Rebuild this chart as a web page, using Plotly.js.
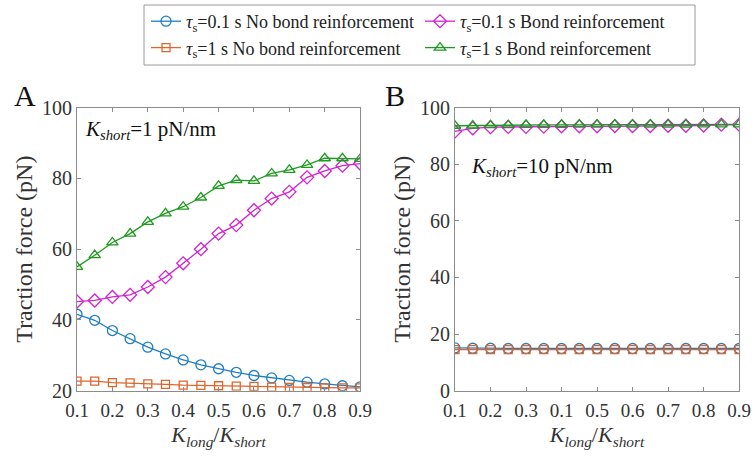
<!DOCTYPE html>
<html>
<head>
<meta charset="utf-8">
<script src="https://cdn.plot.ly/plotly-3.0.1.min.js"></script>
<style>html,body{margin:0;padding:0;background:#fff}#plot{width:755px;height:464px}</style>
</head>
<body>
<div id="plot"></div>
<script>
// ---- data ----
const ratio = [0.1,0.15,0.2,0.25,0.3,0.35,0.4,0.45,0.5,0.55,0.6,0.65,0.7,0.75,0.8,0.85,0.9];

// Panel A (K_short = 1 pN/nm)
const aNoBond01 = [41.6,39.9,37.0,34.7,32.3,30.4,28.7,27.3,26.2,25.2,24.3,23.6,22.9,22.4,21.9,21.4,21.1];
const aBond01   = [45.2,45.5,46.5,47.1,49.3,52.1,56.0,60.0,64.4,66.8,71.0,74.3,76.2,80.3,82.1,83.6,84.2];
const aNoBond1  = [22.7,22.7,22.3,22.2,21.9,21.8,21.6,21.5,21.4,21.3,21.2,21.0,20.9,20.9,20.8,20.8,20.8];
const aBond1    = [55.0,58.3,61.9,64.4,67.7,70.1,72.0,74.6,77.9,79.5,79.3,81.4,82.4,83.8,85.7,85.7,85.5];

// Panel B (K_short = 10 pN/nm)
const bNoBond01 = [15.1,15.0,15.0,14.9,14.9,14.9,14.9,14.9,14.9,14.9,14.9,14.9,14.9,14.9,14.9,14.9,14.9];
const bBond01   = [91.6,92.7,93.1,93.2,93.2,93.3,93.4,93.4,93.4,93.5,93.5,93.5,93.6,93.6,93.7,94.0,94.0];
const bNoBond1  = [14.5,14.5,14.5,14.5,14.5,14.5,14.5,14.5,14.5,14.5,14.5,14.5,14.5,14.5,14.5,14.5,14.5];
const bBond1    = [93.6,93.7,93.8,93.8,93.9,93.9,93.9,94.0,94.0,94.0,94.0,94.0,94.0,94.0,94.1,94.1,94.1];

const seriesNames = [
  "<i>τ</i><sub>s</sub>=0.1 s No bond reinforcement",
  "<i>τ</i><sub>s</sub>=0.1 s Bond reinforcement",
  "<i>τ</i><sub>s</sub>=1 s No bond reinforcement",
  "<i>τ</i><sub>s</sub>=1 s Bond reinforcement"
];
const xTickVals = [0.1,0.2,0.3,0.4,0.5,0.6,0.7,0.8,0.9];
const xTickLabelsA = ["0.1","0.2","0.3","0.4","0.5","0.6","0.7","0.8","0.9"];
const xTickLabelsB = ["0.1","0.2","0.3","0.1","0.5","0.6","0.7","0.8","0.9"];

// ---- styles ----
const colors = ["#1f7fc4","#d024d0","#e0652a","#1e9a1e"];
const symbols = ["circle-open","diamond-open","square-open","triangle-up-open"];
const sizes = [10,10,8,10];
const legendOf = ["legend","legend2","legend","legend2"];
const FONT = "Liberation Serif, Times New Roman, serif";

function tr(x, y, i, axis, show) {
  return {
    x: x, y: y, type: "scatter", mode: "lines+markers",
    name: seriesNames[i], legendgroup: "g"+i, showlegend: show, legend: legendOf[i],
    xaxis: axis[0], yaxis: axis[1],
    line: {color: colors[i], width: 1.3},
    marker: {symbol: symbols[i], size: sizes[i], color: colors[i], line: {width: 1.3, color: colors[i]}}
  };
}
const A = ["x","y"], B = ["x2","y2"];
const data = [
  tr(ratio, aNoBond01, 0, A, true),
  tr(ratio, aBond01,   1, A, true),
  tr(ratio, aNoBond1,  2, A, true),
  tr(ratio, aBond1,    3, A, true),
  tr(ratio, bNoBond01, 0, B, false),
  tr(ratio, bNoBond1,  2, B, false),
  tr(ratio, bBond01,   1, B, false),
  tr(ratio, bBond1,    3, B, false)
];

const axCommon = {
  showline: true, linecolor: "#8c8c8c", linewidth: 1, mirror: "ticks",
  ticks: "inside", ticklen: 4, tickcolor: "#8c8c8c", tickwidth: 1,
  showgrid: false, zeroline: false
};
const xTick = {family: FONT, size: 19, color: "#333"};
const yTick = {family: FONT, size: 20, color: "#333"};
const xTitle = {text: "<i>K</i><sub><i>long</i></sub>/<i>K</i><sub><i>short</i></sub>", font: {family: FONT, size: 22, color: "#333"}, standoff: 6};
const yTitle = {text: "Traction force (pN)", font: {family: FONT, size: 24, color: "#333"}, standoff: 2};
const legCommon = {
  orientation: "v", yanchor: "top", xanchor: "left", y: 1 - 3/464,
  borderwidth: 0, bgcolor: "rgba(0,0,0,0)",
  font: {family: FONT, size: 18, color: "#222"},
  traceorder: "normal", itemwidth: 30, tracegroupgap: 4
};

const yDom = [0.158, 0.768];
const layout = {
  width: 755, height: 464,
  margin: {l: 0, r: 0, t: 0, b: 0},
  paper_bgcolor: "#fff", plot_bgcolor: "#fff",
  font: {family: FONT, color: "#333"},
  showlegend: true,
  legend: Object.assign({}, legCommon, {x: 146/755}),
  legend2: Object.assign({}, legCommon, {x: 420/755}),
  shapes: [
    {type: "rect", xref: "paper", yref: "paper", x0: 144/755, x1: 695/755, y0: 1 - 65/464, y1: 1 - 5/464,
     line: {color: "#9a9a9a", width: 1}, fillcolor: "rgba(0,0,0,0)", layer: "below"}
  ],
  xaxis: Object.assign({}, axCommon, {domain: [0.102, 0.477], anchor: "y", range: [0.1, 0.9],
    tickvals: xTickVals, ticktext: xTickLabelsA, tickfont: xTick, ticklabelstandoff: 3, title: xTitle}),
  yaxis: Object.assign({}, axCommon, {domain: yDom, anchor: "x", range: [20, 100],
    tickvals: [20,40,60,80,100], tickfont: yTick, title: yTitle}),
  xaxis2: Object.assign({}, axCommon, {domain: [0.6026, 0.979], anchor: "y2", range: [0.1, 0.9],
    tickvals: xTickVals, ticktext: xTickLabelsB, tickfont: xTick, ticklabelstandoff: 3, title: xTitle}),
  yaxis2: Object.assign({}, axCommon, {domain: yDom, anchor: "x2", range: [0, 100],
    tickvals: [0,20,40,60,80,100], tickfont: yTick, title: yTitle}),
  annotations: [
    {text: "A", xref: "paper", yref: "paper", x: 12/755, y: 1-95/464, xanchor: "left", yanchor: "middle",
     showarrow: false, font: {family: FONT, size: 30, color: "#111"}},
    {text: "B", xref: "paper", yref: "paper", x: 383/755, y: 1-95/464, xanchor: "left", yanchor: "middle",
     showarrow: false, font: {family: FONT, size: 30, color: "#111"}},
    {text: "<i>K</i><sub><i>short</i></sub>=1 pN/nm", xref: "x domain", yref: "y domain", x: 0.022, y: 0.975,
     xanchor: "left", yanchor: "top", showarrow: false, font: {family: FONT, size: 21, color: "#111"}},
    {text: "<i>K</i><sub><i>short</i></sub>=10 pN/nm", xref: "x2 domain", yref: "y2 domain", x: 0.05, y: 0.845,
     xanchor: "left", yanchor: "top", showarrow: false, font: {family: FONT, size: 21, color: "#111"}}
  ]
};
Plotly.newPlot("plot", data, layout, {displayModeBar: false, staticPlot: true});
</script>
</body>
</html>
